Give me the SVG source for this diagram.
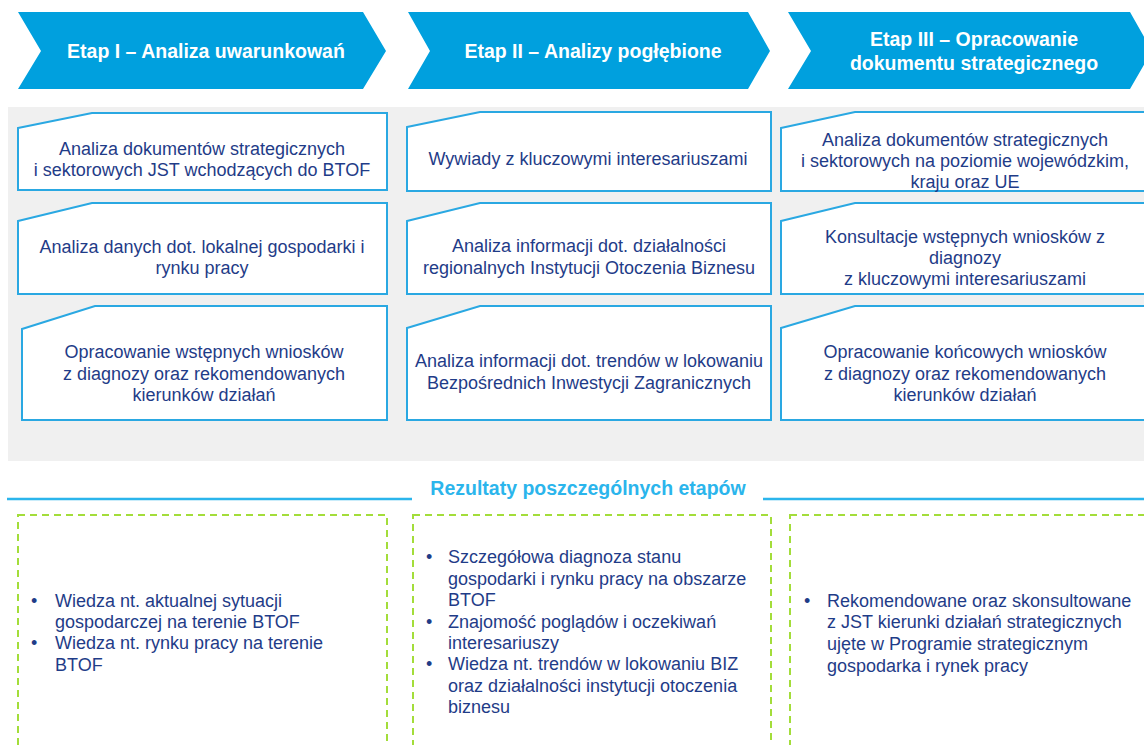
<svg xmlns="http://www.w3.org/2000/svg" width="1144" height="745" viewBox="0 0 1144 745">
<style>
.arrow{fill:#00a0de}
.atxt{font-family:"Liberation Sans",Arial,sans-serif;font-weight:bold;font-size:19.5px;fill:#ffffff;text-anchor:middle}
.box{fill:#ffffff;stroke:#2aa8e2;stroke-width:2}
.btxt{font-family:"Liberation Sans",Arial,sans-serif;font-size:18px;fill:#1f3c88;text-anchor:middle}
.ltxt{font-family:"Liberation Sans",Arial,sans-serif;font-size:18px;fill:#1f3c88}
.res{fill:#ffffff;stroke:#a3dd3a;stroke-width:2;stroke-dasharray:7 5}
.hline{stroke:#2bb5ec;stroke-width:2.5}
.title{font-family:"Liberation Sans",Arial,sans-serif;font-weight:bold;font-size:19.5px;fill:#2bb5ec;text-anchor:middle}
</style>
<rect x="0" y="0" width="1144" height="745" fill="#ffffff"/>
<rect id="panel" x="8" y="107" width="1140" height="354" fill="#f0f0f0"/>

<g id="stage1">
<polygon class="arrow" points="18,12 363,12 386,51 363,89 18,89 41,51"/>
<text class="atxt" x="206" y="58">Etap I – Analiza uwarunkowań</text>
</g>
<g id="stage2">
<polygon class="arrow" points="408,12 748,12 770,51 748,89 408,89 430,51"/>
<text class="atxt" x="593" y="58">Etap II – Analizy pogłębione</text>
</g>
<g id="stage3">
<polygon class="arrow" points="788,12 1130,12 1152,51 1130,89 788,89 811,51"/>
<text class="atxt" x="974" y="46">Etap III – Opracowanie</text>
<text class="atxt" x="974" y="70">dokumentu strategicznego</text>
</g>

<g id="b11">
<polygon class="box" points="18,128 92,113 387,113 387,190 18,190"/>
<text class="btxt" x="202" y="155">Analiza dokumentów strategicznych</text>
<text class="btxt" x="202" y="176">i sektorowych JST wchodzących do BTOF</text>
</g>
<g id="b12">
<polygon class="box" points="18,221 92,203 387,203 387,294 18,294"/>
<text class="btxt" x="202" y="253">Analiza danych dot. lokalnej gospodarki i</text>
<text class="btxt" x="202" y="274">rynku pracy</text>
</g>
<g id="b13">
<polygon class="box" points="22,329 95,306 387,306 387,420 22,420"/>
<text class="btxt" x="204" y="358">Opracowanie wstępnych wniosków</text>
<text class="btxt" x="204" y="380">z diagnozy oraz rekomendowanych</text>
<text class="btxt" x="204" y="401">kierunków działań</text>
</g>

<g id="b21">
<polygon class="box" points="407,127 480,112 771,112 771,191 407,191"/>
<text class="btxt" x="588" y="165">Wywiady z kluczowymi interesariuszami</text>
</g>
<g id="b22">
<polygon class="box" points="407,221 480,203 771,203 771,294 407,294"/>
<text class="btxt" x="589" y="252">Analiza informacji dot. działalności</text>
<text class="btxt" x="589" y="274">regionalnych Instytucji Otoczenia Biznesu</text>
</g>
<g id="b23">
<polygon class="box" points="407,328 480,306 771,306 771,420 407,420"/>
<text class="btxt" x="589" y="367">Analiza informacji dot. trendów w lokowaniu</text>
<text class="btxt" x="589" y="389">Bezpośrednich Inwestycji Zagranicznych</text>
</g>

<g id="b31">
<polygon class="box" points="781,128 855,112 1150,112 1150,191 781,191"/>
<text class="btxt" x="965" y="146">Analiza dokumentów strategicznych</text>
<text class="btxt" x="965" y="167">i sektorowych na poziomie wojewódzkim,</text>
<text class="btxt" x="965" y="188">kraju oraz UE</text>
</g>
<g id="b32">
<polygon class="box" points="781,221 855,203 1150,203 1150,294 781,294"/>
<text class="btxt" x="965" y="243">Konsultacje wstępnych wniosków z</text>
<text class="btxt" x="965" y="264">diagnozy</text>
<text class="btxt" x="965" y="285">z kluczowymi interesariuszami</text>
</g>
<g id="b33">
<polygon class="box" points="781,328 855,306 1150,306 1150,420 781,420"/>
<text class="btxt" x="965" y="358">Opracowanie końcowych wniosków</text>
<text class="btxt" x="965" y="380">z diagnozy oraz rekomendowanych</text>
<text class="btxt" x="965" y="401">kierunków działań</text>
</g>

<g id="results-header">
<line class="hline" x1="7" y1="499" x2="412" y2="499"/>
<line class="hline" x1="763" y1="499" x2="1144" y2="499"/>
<text class="title" x="588" y="495">Rezultaty poszczególnych etapów</text>
</g>

<g id="r1">
<rect class="res" x="18" y="515" width="369" height="250"/>
<text class="ltxt" x="31" y="607">•</text>
<text class="ltxt" x="55" y="607">Wiedza nt. aktualnej sytuacji</text>
<text class="ltxt" x="55" y="628">gospodarczej na terenie BTOF</text>
<text class="ltxt" x="31" y="649">•</text>
<text class="ltxt" x="55" y="649">Wiedza nt. rynku pracy na terenie</text>
<text class="ltxt" x="55" y="671">BTOF</text>
</g>
<g id="r2">
<rect class="res" x="413" y="515" width="358" height="250"/>
<text class="ltxt" x="426" y="563">•</text>
<text class="ltxt" x="448" y="563">Szczegółowa diagnoza stanu</text>
<text class="ltxt" x="448" y="585">gospodarki i rynku pracy na obszarze</text>
<text class="ltxt" x="448" y="606">BTOF</text>
<text class="ltxt" x="426" y="628">•</text>
<text class="ltxt" x="448" y="628">Znajomość poglądów i oczekiwań</text>
<text class="ltxt" x="448" y="649">interesariuszy</text>
<text class="ltxt" x="426" y="670">•</text>
<text class="ltxt" x="448" y="670">Wiedza nt. trendów w lokowaniu BIZ</text>
<text class="ltxt" x="448" y="692">oraz działalności instytucji otoczenia</text>
<text class="ltxt" x="448" y="713">biznesu</text>
</g>
<g id="r3">
<rect class="res" x="790" y="515" width="370" height="250"/>
<text class="ltxt" x="804" y="607">•</text>
<text class="ltxt" x="827" y="607">Rekomendowane oraz skonsultowane</text>
<text class="ltxt" x="827" y="628">z JST kierunki działań strategicznych</text>
<text class="ltxt" x="827" y="650">ujęte w Programie strategicznym</text>
<text class="ltxt" x="827" y="672">gospodarka i rynek pracy</text>
</g>
<g id="connectors"></g>
</svg>
